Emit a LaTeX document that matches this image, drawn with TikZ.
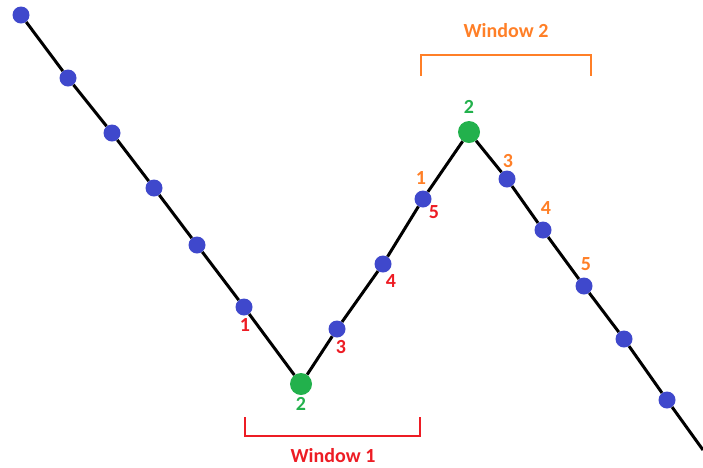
\documentclass[tikz,border=0pt]{standalone}
\usepackage{fontspec}
\setmainfont{Carlito}
\usetikzlibrary{positioning}
\definecolor{dotblue}{HTML}{3F48CC}
\definecolor{peakgreen}{HTML}{22B14C}
\definecolor{winred}{HTML}{ED1C24}
\definecolor{winorange}{HTML}{FF7F27}

\begin{document}
\begin{tikzpicture}[x=1pt,y=-1pt,every node/.style={font=\fontsize{20}{24}\selectfont\bfseries},
  dot/.style={circle,fill=dotblue,minimum size=17pt,inner sep=0pt},
  peak/.style={circle,fill=peakgreen,minimum size=22pt,inner sep=0pt},
  trend/.style={line width=3pt,black},
  bracket/.style={line width=2pt}]
  \useasboundingbox (0,0) rectangle (703,467);

  \node[dot] (p1) at (21,15) {};
  \node[dot] (p2) at (68,78) {};
  \node[dot] (p3) at (112,133) {};
  \node[dot] (p4) at (154,188) {};
  \node[dot] (p5) at (197,245) {};
  \node[dot] (p6) at (244,307) {};
  \node[peak] (p7) at (301,384) {};
  \node[dot] (p8) at (337,329) {};
  \node[dot] (p9) at (383,264) {};
  \node[dot] (p10) at (423,199) {};
  \node[peak] (p11) at (469,132) {};
  \node[dot] (p12) at (507,179) {};
  \node[dot] (p13) at (543,230) {};
  \node[dot] (p14) at (584,286) {};
  \node[dot] (p15) at (624,339) {};
  \node[dot] (p16) at (667,400) {};
  \coordinate (tail) at (703,450);

  \draw[trend] (p1) -- (p2) -- (p3) -- (p4) -- (p5) -- (p6) -- (p7) -- (p8) -- (p9)
    -- (p10) -- (p11) -- (p12) -- (p13) -- (p14) -- (p15) -- (p16) -- (tail);

  \node[text=winred] (r1) at (245,325) {1};
  \node[text=peakgreen] (g1) at (301,404) {2};
  \node[text=winred] (r3) at (341,347) {3};
  \node[text=winred] (r4) at (391,281) {4};
  \node[text=winred] (r5) at (434,212) {5};

  \node[text=winorange] (o1) at (421,178) {1};
  \node[text=peakgreen] (g2) at (469,107) {2};
  \node[text=winorange] (o3) at (508,161) {3};
  \node[text=winorange] (o4) at (546,208) {4};
  \node[text=winorange] (o5) at (586,264) {5};

  \draw[bracket,winred] (245,417) -- (245,436) -- (420,436) -- (420,417);
  \node[text=winred,inner sep=0.5pt] (w1) at (333,456) {Window 1};
  \draw[bracket,winorange] (421,76) -- (421,55) -- (591,55) -- (591,76);
  \node[text=winorange] (w2) at (506,31) {Window 2};
\end{tikzpicture}
\end{document}
